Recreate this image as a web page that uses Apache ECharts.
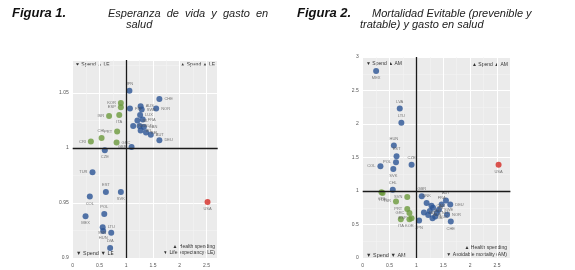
<!DOCTYPE html>
<html><head><meta charset="utf-8">
<script src="https://cdn.jsdelivr.net/npm/echarts@6/dist/echarts.min.js"></script>
<style>html,body{margin:0;padding:0;background:#fff}#c{width:575px;height:270px}</style>
</head><body><div id="c"></div>
<script>
// ---- Figura 1: health spending index vs life expectancy index ----
const codes1 = ['JPN','CHE','AUS','SWE','NOR','LUX','ISL','FRA','NZL','NLD','CAN','IRL','BEL','AUT','DEU','GBR','FIN',
  'KOR','ESP','ISR','ITA','PRT','CHL','GRC','CRI',
  'CZE','TUR','EST','SVK','COL','POL','MEX','LTU','HUN','SVN','LVA','USA'];
const spend1 = [1.06,1.62,1.27,1.29,1.56,1.26,1.21,1.31,1.13,1.25,1.33,1.27,1.37,1.46,1.62,1.10,1.07,
  0.90,0.90,0.68,0.87,0.83,0.54,0.82,0.34,
  0.60,0.37,0.62,0.90,0.32,0.59,0.24,0.56,0.57,0.72,0.70,2.52];
const le1 = [1.052,1.0445,1.038,1.035,1.036,1.030,1.025,1.026,1.020,1.020,1.019,1.016,1.014,1.012,1.007,1.001,1.036,
  1.041,1.037,1.029,1.030,1.015,1.009,1.005,1.006,
  0.998,0.978,0.960,0.960,0.956,0.940,0.938,0.928,0.9245,0.923,0.909,0.951];
const group1 = ['b','b','b','b','b','b','b','b','b','b','b','b','b','b','b','b','b',
  'g','g','g','g','g','g','g','g',
  'b','b','b','b','b','b','b','b','b','b','b','r'];

// ---- Figura 2: health spending index vs avoidable mortality index ----
const codes2 = ['MEX','LVA','LTU','HUN','EST','POL','COL','CZE','SVK','CHL',
  'CRI','TUR','ISR','SVN','PRT','GRC','ESP','ITA','KOR',
  'JPN','GBR','AUT','FRA','DEU','BEL','DNK','IRL','NLD','ISL','NOR','CHE','SWE','LUX','AUS','CAN','NZL','USA'];
const spend2 = [0.25,0.69,0.72,0.58,0.63,0.62,0.33,0.91,0.57,0.56,
  0.35,0.37,0.62,0.83,0.83,0.87,0.91,0.71,0.87,
  1.05,1.10,1.55,1.47,1.63,1.25,1.19,1.31,1.38,1.30,1.57,1.64,1.42,1.35,1.22,1.28,1.14,2.53];
const am2 = [2.79,2.23,2.02,1.68,1.52,1.43,1.37,1.39,1.33,1.02,
  0.98,0.97,0.845,0.91,0.73,0.67,0.595,0.58,0.58,
  0.56,0.92,0.86,0.80,0.80,0.70,0.82,0.75,0.67,0.595,0.645,0.545,0.72,0.62,0.64,0.78,0.68,1.39];
const group2 = ['b','b','b','b','b','b','b','b','b','b',
  'g','g','g','g','g','g','g','g','g',
  'b','b','b','b','b','b','b','b','b','b','b','b','b','b','b','b','b','r'];

// styles
const COL = {b:'#2a5495', g:'#6c9a3c', r:'#d42a24'};
const labelPos1 = {KOR:'left',ESP:'left',ISR:'left',ITA:'bottom',PRT:'left',CHL:'top',GRC:'right',CRI:'left',
  CZE:'bottom',TUR:'left',EST:'top',SVK:'bottom',COL:'bottom',POL:'top',MEX:'bottom',LTU:'right',HUN:'bottom',SVN:'left',LVA:'top',USA:'bottom',
  JPN:'top',CHE:'right',NOR:'right',DEU:'right',GBR:'left'};
const labelPos2 = {MEX:'bottom',LVA:'top',LTU:'top',HUN:'top',EST:'top',POL:'left',COL:'left',CZE:'top',SVK:'bottom',CHL:'top',
  CRI:'bottom',TUR:'bottom',ISR:'left',SVN:'left',PRT:'left',GRC:'left',ESP:'left',ITA:'bottom',KOR:'bottom',USA:'bottom',
  JPN:'bottom',GBR:'top',AUT:'top',DEU:'right',NOR:'right',CHE:'bottom',SWE:'right',FRA:'top',DNK:'top'};

function build(codes, xs, ys, groups, lp){
  return codes.map((c,i)=>({
    name:c, value:[xs[i],ys[i]],
    itemStyle:{color:COL[groups[i]]},
    label:{position: lp[c] || 'right'}
  }));
}

const FONT = 'Liberation Sans, Arial, sans-serif';
function fmtFor(step){ return v => (Math.abs(v/step - Math.round(v/step))<1e-6) ? String(+v.toFixed(2)) : ''; }

function xAx(gi,max){
  return {gridIndex:gi,type:'value',min:0,max:max,interval:0.5,
    axisLine:{show:false},axisTick:{show:false},
    axisLabel:{fontSize:5,color:'#555',fontFamily:FONT,margin:5,formatter:fmtFor(0.5),showMaxLabel:false},
    splitLine:{show:true,lineStyle:{color:'#ffffff',width:1}},
    minorTick:{show:false,splitNumber:2},
    minorSplitLine:{show:true,lineStyle:{color:'#f4f4f4',width:0.6}}};
}
function yAx(gi,min,max,step,showMax){
  return {gridIndex:gi,type:'value',min:min,max:max,interval:step,
    axisLine:{show:false},axisTick:{show:false},
    axisLabel:{fontSize:5,color:'#555',fontFamily:FONT,margin:4,formatter:fmtFor(step),showMaxLabel:showMax},
    splitLine:{show:true,lineStyle:{color:'#ffffff',width:1}},
    minorTick:{show:false,splitNumber:2},
    minorSplitLine:{show:true,lineStyle:{color:'#f4f4f4',width:0.6}}};
}
const quadLines = {silent:true,symbol:'none',animation:false,
  lineStyle:{color:'#1a1a1a',width:1.3,type:'solid'},label:{show:false},
  data:[{xAxis:1},{yAxis:1}]};

function scatter(xi,data){
  return {type:'scatter',xAxisIndex:xi,yAxisIndex:xi,symbolSize:6,data:data,
    label:{show:true,formatter:'{b}',fontSize:4,color:'#555',fontFamily:FONT,distance:2},
    markLine:quadLines, z:3};
}

function txt(x,y,s,fs){
  return {type:'text',left:x,top:y,silent:true,
    style:{text:s,fontSize:fs||5,fill:'#333',fontFamily:FONT}};
}
function rtxt(r,y,s,fs){
  return {type:'text',right:575-r,top:y,silent:true,
    style:{text:s,fontSize:fs||5,fill:'#333',fontFamily:FONT,textAlign:'right'}};
}

const chart = echarts.init(document.getElementById('c'),null,{renderer:'canvas'});
chart.setOption({
  animation:false,
  backgroundColor:'#ffffff',
  grid:[
    {left:72.7,top:60,width:145,height:198,show:true,backgroundColor:'#ebebeb',borderWidth:0},
    {left:362.7,top:57,width:147.7,height:201,show:true,backgroundColor:'#ebebeb',borderWidth:0}
  ],
  xAxis:[xAx(0,2.71),xAx(1,2.75)],
  yAxis:[yAx(0,0.9,1.08,0.05,false),yAx(1,0,3,0.5,true)],
  series:[
    scatter(0,build(codes1,spend1,le1,group1,labelPos1)),
    scatter(1,build(codes2,spend2,am2,group2,labelPos2))
  ],
  graphic:[
    {type:'text',left:12,top:7,style:{text:'Figura 1.',font:'italic bold 13px '+FONT,fill:'#111'}},
    {type:'text',left:108,top:8,style:{text:'Esperanza  de  vida  y  gasto  en',font:'italic 11px '+FONT,fill:'#222'}},
    {type:'text',left:126,top:19.5,style:{text:'salud',font:'italic 11px '+FONT,fill:'#222'}},
    {type:'text',left:297,top:7,style:{text:'Figura 2.',font:'italic bold 13px '+FONT,fill:'#111'}},
    {type:'text',left:372,top:8,style:{text:'Mortalidad Evitable (prevenible y',font:'italic 11px '+FONT,fill:'#222'}},
    {type:'text',left:360,top:19.5,style:{text:'tratable) y gasto en salud',font:'italic 11px '+FONT,fill:'#222'}},
    // quadrant notes chart 1
    txt(75,62,'▼ Spend ▲ LE'),
    rtxt(215,62,'▲ Spend ▲ LE'),
    txt(76,250,'▼ Spend ▼ LE',5.5),
    rtxt(215,244,'▲ Health spending'),
    rtxt(215,250,'▼ Life expectancy (LE)'),
    // quadrant notes chart 2
    txt(366,61,'▼ Spend ▲ AM'),
    rtxt(508,62,'▲ Spend ▲ AM'),
    txt(366,252,'▼ Spend ▼ AM',5.5),
    rtxt(507,245,'▲ Health spending'),
    rtxt(507,252,'▼ Avoidable mortality (AM)')
  ]
});
</script></body></html>
